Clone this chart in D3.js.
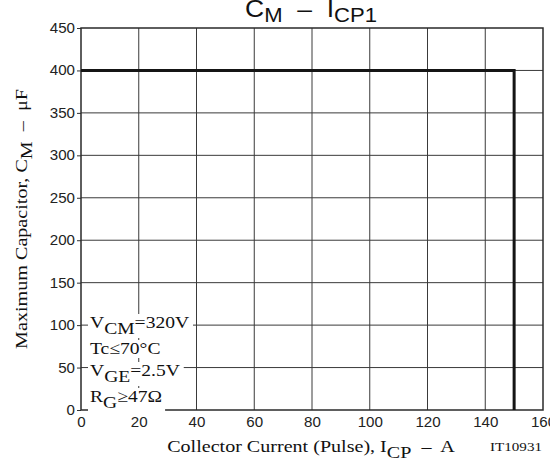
<!DOCTYPE html>
<html><head><meta charset="utf-8">
<script src="https://cdn.jsdelivr.net/npm/d3@7"></script>
<style>
html,body{margin:0;padding:0;background:#fff;}
svg{display:block;}
.sans{font-family:"Liberation Sans",Arial,sans-serif;}
.serif{font-family:"Liberation Serif","Times New Roman",serif;}
</style></head>
<body>
<svg id="c" width="550" height="465"></svg>
<script>
// Data
const xTickValues = [0,20,40,60,80,100,120,140,160];
const yTickValues = [0,50,100,150,200,250,300,350,400,450];
const currentICP = [0,150,150];       // A
const capacitanceCM = [400,400,0];    // µF
const conditions = [
  [{t:"V"},{t:"CM",sub:true},{t:"=320V"}],
  [{t:"Tc≤70°C"}],
  [{t:"V"},{t:"GE",sub:true},{t:"=2.5V"}],
  [{t:"R"},{t:"G",sub:true},{t:"≥47Ω"}]
];

const svg = d3.select("#c");
const L=81, T=28, R=543, B=410;
const x = d3.scaleLinear().domain([0,160]).range([L,R]);
const y = d3.scaleLinear().domain([0,450]).range([B,T]);

// stretch a text horizontally to a target width (the reference uses widened type)
function widthOf(t){ return t.node().getBBox().width; }

// grid
const g = svg.append("g");
g.selectAll(".vg").data(xTickValues.slice(1,-1)).join("line")
  .attr("x1",d=>x(d)).attr("x2",d=>x(d)).attr("y1",T).attr("y2",B)
  .attr("stroke","#3a3a3a").attr("stroke-width",1);
g.selectAll(".hg").data(yTickValues.slice(1,-1)).join("line")
  .attr("y1",d=>y(d)).attr("y2",d=>y(d)).attr("x1",L).attr("x2",R)
  .attr("stroke","#3a3a3a").attr("stroke-width",1);

// axes
const yAxis = d3.axisLeft(y).tickValues(yTickValues).tickSize(4).tickPadding(2);
const ya = svg.append("g").attr("transform",`translate(${L},0)`).call(yAxis);
ya.select(".domain").remove();
ya.selectAll("text").attr("class","sans").attr("font-size",14).attr("fill","#222")
  .attr("x",0).attr("transform","translate(-6,0) scale(1.08,1)");
ya.selectAll("line").attr("stroke","#333");

const xAxis = d3.axisBottom(x).tickValues(xTickValues).tickSize(0).tickPadding(7);
const xa = svg.append("g").attr("transform",`translate(0,${B})`).call(xAxis);
xa.select(".domain").remove();
xa.selectAll("text").attr("class","sans").attr("font-size",14).attr("fill","#222")
  .attr("transform","scale(1.08,1)");

// frame
svg.append("rect").attr("x",L).attr("y",T).attr("width",R-L).attr("height",B-T)
  .attr("fill","none").attr("stroke","#2a2a2a").attr("stroke-width",1.5);

// curve
const pts = currentICP.map((v,i)=>[v,capacitanceCM[i]]);
svg.append("path").datum(pts)
  .attr("d",d3.line().x(d=>x(d[0])).y(d=>y(d[1])))
  .attr("fill","none").attr("stroke","#151515").attr("stroke-width",3);

// condition annotations
const baselines=[328,354,376,402];
let annScale = null;
conditions.forEach((parts,i)=>{
  const grp = svg.append("g");
  const t = grp.append("text").attr("class","serif").attr("font-size",17)
    .attr("x",0).attr("y",0).attr("fill","#111");
  parts.forEach((p,j)=>{
    const s=t.append("tspan").text(p.t);
    if(p.sub) s.attr("dy",6);
    else if(j>0 && parts[j-1].sub) s.attr("dy",-6);
  });
  if(annScale===null) annScale = 100/widthOf(t);
  const bb=t.node().getBBox();
  grp.insert("rect","text").attr("x",bb.x-2/annScale).attr("y",bb.y+1).attr("width",bb.width+5/annScale).attr("height",bb.height-1).attr("fill","#fff");
  grp.attr("transform",`translate(90,${baselines[i]}) scale(${annScale},1)`);
});

// title
const tg = svg.append("g");
const title = tg.append("text").attr("class","sans").attr("x",0).attr("y",0)
  .attr("text-anchor","middle").attr("font-size",24).attr("fill","#111")
  .attr("xml:space","preserve");
title.append("tspan").text("C");
title.append("tspan").text("M").attr("font-size",20).attr("dy",5);
title.append("tspan").text("  –  I").attr("dy",-5);
title.append("tspan").text("CP1").attr("font-size",20).attr("dy",5);
tg.attr("transform",`translate(311,17) scale(${132/widthOf(title)},1)`);

// y label
const yg = svg.append("g");
const yl = yg.append("text").attr("class","serif").attr("font-size",16).attr("fill","#111")
  .attr("text-anchor","middle").attr("xml:space","preserve");
yl.append("tspan").text("Maximum Capacitor, C");
yl.append("tspan").text("M").attr("dy",5);
yl.append("tspan").text("  –  μF").attr("dy",-5);
yg.attr("transform",`translate(27,219) rotate(-90) scale(${260/widthOf(yl)},1)`);

// x label
const xg = svg.append("g");
const xl = xg.append("text").attr("class","serif").attr("font-size",17).attr("fill","#111")
  .attr("text-anchor","middle").attr("xml:space","preserve");
xl.append("tspan").text("Collector Current (Pulse), I");
xl.append("tspan").text("CP").attr("dy",6);
xl.append("tspan").text("  –  A").attr("dy",-6);
xg.attr("transform",`translate(311,452) scale(${288/widthOf(xl)},1)`);

const ig = svg.append("g");
const it = ig.append("text").attr("class","serif").attr("font-size",12).attr("fill","#111")
  .attr("text-anchor","end").text("IT10931");
ig.attr("transform",`translate(542,451) scale(${52/widthOf(it)},1)`);
</script>
</body></html>
